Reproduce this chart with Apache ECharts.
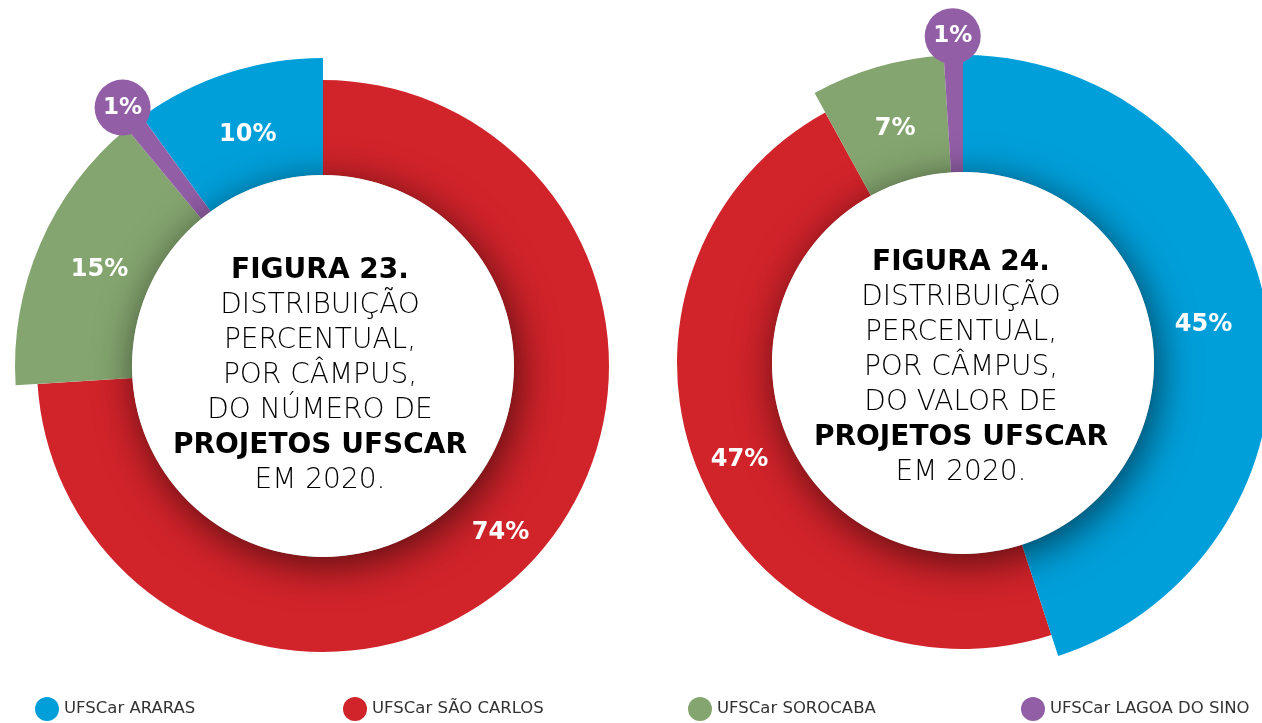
<!DOCTYPE html>
<html>
<head>
<meta charset="utf-8">
<script src="https://cdn.jsdelivr.net/npm/echarts@6/dist/echarts.min.js"></script>
<style>
html,body{margin:0;padding:0;background:#fff;}
#main{width:1262px;height:723px;}
</style>
</head>
<body>
<div id="main"></div>
<script>
// ---- data ----
const categories = ['UFSCar ARARAS', 'UFSCar SÃO CARLOS', 'UFSCar SOROCABA', 'UFSCar LAGOA DO SINO'];
const fig23Values = [10, 74, 15, 1];   // número de projetos (%)
const fig24Values = [45, 47, 7, 1];    // valor de projetos (%)
const fig23Order = [1, 2, 3, 0];       // clockwise drawing order from 12 o'clock
const fig24Order = [0, 1, 2, 3];
const fig23Title = ['FIGURA 23.', 'DISTRIBUIÇÃO', 'PERCENTUAL,', 'POR CÂMPUS,', 'DO NÚMERO DE', 'PROJETOS UFSCAR', 'EM 2020.'];
const fig24Title = ['FIGURA 24.', 'DISTRIBUIÇÃO', 'PERCENTUAL,', 'POR CÂMPUS,', 'DO VALOR DE', 'PROJETOS UFSCAR', 'EM 2020.'];
const boldLines = [0, 5];

// ---- style ----
const palette = ['#009FDA', '#D1232A', '#84A56F', '#925FA7'];
const FONT = "'DejaVu Sans', sans-serif";
const INNER = 191;
const R_MAIN = 286;   // São Carlos ring
const R_BIG = 308;    // other campuses
const R_STEM = 318;   // Lagoa do Sino stem
const R_LABEL = 290;  // outer edge of the invisible label ring
const HEAD_R = 28;

function itemsFor(values, order, shown, withLabel, transparent) {
  return order.map(function (i) {
    const vis = shown.indexOf(i) >= 0;
    return {
      name: categories[i],
      value: values[i],
      itemStyle: { color: (vis && !transparent) ? palette[i] : 'rgba(0,0,0,0)' },
      label: { show: withLabel && vis }
    };
  });
}

function chartSeries(center, values, order) {
  const common = {
    type: 'pie', center: center, startAngle: 90, clockwise: true,
    silent: true, animation: false, emphasis: { disabled: true },
    labelLine: { show: false }, padAngle: 0,
    itemStyle: { borderWidth: 0 }
  };
  const pctLabel = {
    position: 'inside', color: '#fff', fontFamily: FONT, fontWeight: 'bold', fontSize: 24,
    formatter: function (p) { return p.value + '%'; }
  };
  return [
    Object.assign({}, common, {
      radius: [INNER, R_MAIN], label: { show: false },
      data: itemsFor(values, order, [1], false, false)
    }),
    Object.assign({}, common, {
      radius: [INNER, R_BIG], label: { show: false },
      data: itemsFor(values, order, [0, 2], false, false)
    }),
    Object.assign({}, common, {
      radius: [INNER, R_STEM], label: { show: false },
      data: itemsFor(values, order, [3], false, false)
    }),
    Object.assign({}, common, {
      radius: [0, INNER],
      label: { show: false },
      itemStyle: {
        color: '#fff', shadowBlur: 40, shadowColor: 'rgba(0,0,0,0.6)',
        shadowOffsetX: 4, shadowOffsetY: 8
      },
      data: [{ name: '', value: 1 }]
    }),
    Object.assign({}, common, {
      radius: [INNER, R_LABEL], label: pctLabel,
      data: itemsFor(values, order, [0, 1, 2], true, true)
    }),
    Object.assign({}, common, {
      radius: [324 - HEAD_R, 324 + HEAD_R],
      label: {
        position: 'inside', color: '#fff', fontFamily: FONT, fontWeight: 'bold', fontSize: 23,
        backgroundColor: palette[3], borderRadius: HEAD_R,
        width: HEAD_R * 2, height: HEAD_R * 2, lineHeight: HEAD_R * 2, align: 'center',
        formatter: function (p) { return p.value + '%'; }
      },
      data: itemsFor(values, order, [3], true, true)
    })
  ];
}

function titleText(lines, x, y) {
  return {
    type: 'text', x: x, y: y, silent: true, z: 100, zlevel: 1,
    style: {
      text: lines.map(function (t, k) { return (boldLines.indexOf(k) >= 0 ? '{b|' : '{l|') + t + '}'; }).join('\n'),
      align: 'center', verticalAlign: 'top',
      rich: {
        b: { fontFamily: FONT, fontWeight: 'bold', fontSize: 28, lineHeight: 35, color: '#111', align: 'center' },
        l: { fontFamily: FONT, fontWeight: 200, fontSize: 28, lineHeight: 35, color: '#222', align: 'center' }
      }
    }
  };
}

const legendLefts = [35, 343, 688, 1021];
const chart = echarts.init(document.getElementById('main'), null, { renderer: 'canvas' });
chart.setOption({
  backgroundColor: '#fff',
  animation: false,
  legend: categories.map(function (c, i) {
    return {
      data: [{ name: c, itemStyle: { color: palette[i] } }],
      left: legendLefts[i], top: 697, padding: 0, icon: 'circle', itemWidth: 24, itemHeight: 24,
      selectedMode: false,
      textStyle: { fontFamily: FONT, fontSize: 16.5, color: '#333' }
    };
  }),
  series: [].concat(
    chartSeries([323, 366], fig23Values, fig23Order),
    chartSeries([963, 363], fig24Values, fig24Order)
  ),
  graphic: [
    titleText(fig23Title, 320, 253),
    titleText(fig24Title, 961, 245)
  ]
});
</script>
</body>
</html>
